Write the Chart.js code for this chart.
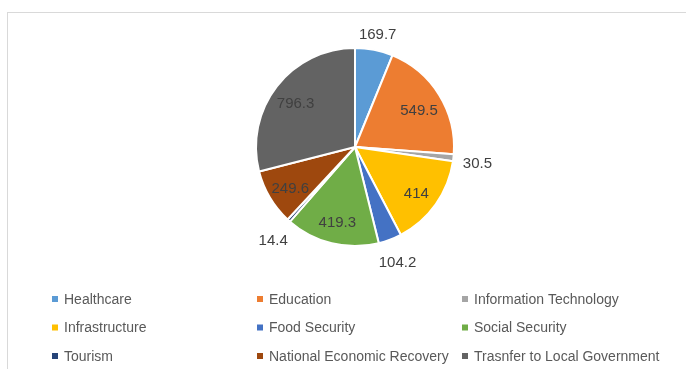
<!DOCTYPE html>
<html>
<head>
<meta charset="utf-8">
<title>Budget allocation</title>
<script src="https://cdn.jsdelivr.net/npm/chart.js@4.4.1/dist/chart.umd.min.js"></script>
<style>
  html, body { margin: 0; padding: 0; background: #fff; overflow: hidden; }
  #wrap { position: relative; width: 686px; height: 369px; }
  #frame {
    position: absolute; left: 7px; top: 12px; width: 700px; height: 400px;
    border: 1px solid #d9d9d9; box-sizing: border-box;
  }
  #chart { position: absolute; left: 0; top: 0; }
</style>
</head>
<body>
<div id="wrap">
  <div id="frame"></div>
  <canvas id="chart" width="686" height="369"></canvas>
</div>
<script>
// categories and values
const categories = [
  'Healthcare',
  'Education',
  'Information Technology',
  'Infrastructure',
  'Food Security',
  'Social Security',
  'Tourism',
  'National Economic Recovery',
  'Trasnfer to Local Government'
];
const amounts = [169.7, 549.5, 30.5, 414, 104.2, 419.3, 14.4, 249.6, 796.3];
const sliceColors = [
  '#5B9BD5', '#ED7D31', '#A5A5A5', '#FFC000', '#4472C4',
  '#70AD47', '#264478', '#9E480E', '#636363'
];

const labelFont = '15px "Liberation Sans", Arial, sans-serif';
const legendFont = '14px "Liberation Sans", Arial, sans-serif';

// value labels: inside for big slices, outside for small ones
const sliceLabels = {
  id: 'sliceLabels',
  afterDatasetsDraw(chart) {
    const ctx = chart.ctx;
    const meta = chart.getDatasetMeta(0);
    const values = chart.data.datasets[0].data;
    const total = values.reduce((a, b) => a + b, 0);
    ctx.save();
    ctx.font = labelFont;
    ctx.fillStyle = '#404040';
    ctx.textAlign = 'center';
    ctx.textBaseline = 'middle';
    meta.data.forEach((arc, i) => {
      const p = arc.getProps(['x', 'y', 'startAngle', 'endAngle', 'outerRadius'], true);
      const mid = (p.startAngle + p.endAngle) / 2;
      const text = String(values[i]);
      const w = ctx.measureText(text).width;
      const h = 12;
      const c = Math.cos(mid), s = Math.sin(mid);
      let r;
      if (values[i] / total >= 0.08) {
        r = p.outerRadius * 0.76;
      } else {
        r = p.outerRadius + 9 + Math.abs(c) * w / 2 + Math.abs(s) * h / 2;
      }
      ctx.fillText(text, p.x + c * r, p.y + s * r + 3);
    });
    ctx.restore();
  }
};

// legend in three columns under the pie
const gridLegend = {
  id: 'gridLegend',
  afterDraw(chart) {
    const ctx = chart.ctx;
    const labels = chart.data.labels;
    const colors = chart.data.datasets[0].backgroundColor;
    ctx.save();
    ctx.font = legendFont;
    ctx.textBaseline = 'middle';
    ctx.textAlign = 'left';
    labels.forEach((label, i) => {
      const col = i % 3;
      const row = Math.floor(i / 3);
      const x = 55 + col * 205;
      const y = 299 + row * 28.5;
      ctx.fillStyle = colors[i];
      ctx.fillRect(x - 3, y - 3, 6, 6);
      ctx.fillStyle = '#595959';
      ctx.fillText(label, x + 9, y + 1);
    });
    ctx.restore();
  }
};

new Chart(document.getElementById('chart'), {
  type: 'pie',
  data: {
    labels: categories,
    datasets: [{
      data: amounts,
      backgroundColor: sliceColors,
      borderColor: '#ffffff',
      borderWidth: 2,
      hoverOffset: 0,
      offset: 0
    }]
  },
  options: {
    responsive: false,
    animation: false,
    devicePixelRatio: 1,
    layout: { padding: { top: 47, bottom: 122, left: 24, right: 0 } },
    plugins: {
      legend: { display: false },
      tooltip: { enabled: false }
    }
  },
  plugins: [sliceLabels, gridLegend]
});
</script>
</body>
</html>
